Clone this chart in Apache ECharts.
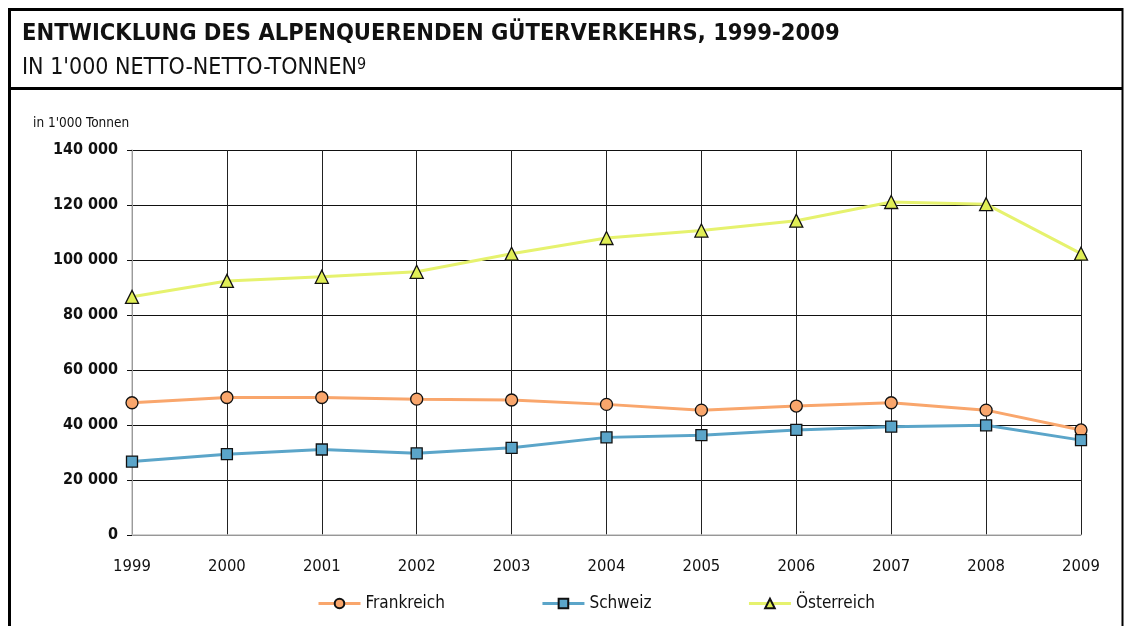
<!DOCTYPE html>
<html>
<head>
<meta charset="utf-8">
<script src="https://cdn.jsdelivr.net/npm/echarts@6/dist/echarts.min.js"></script>
<style>
html,body{margin:0;padding:0;background:#fff;}
#chart{width:1126px;height:626px;}
</style>
</head>
<body>
<div id="chart"></div>
<script>
var years = ['1999','2000','2001','2002','2003','2004','2005','2006','2007','2008','2009'];
var frankreich = [48100, 50000, 50000, 49400, 49100, 47500, 45400, 46900, 48100, 45400, 38200];
var schweiz = [26700, 29400, 31100, 29700, 31700, 35500, 36300, 38200, 39400, 39900, 34500];
var oesterreich = [86600, 92400, 93900, 95700, 102300, 108000, 110700, 114300, 121100, 120300, 102300];
var seriesNames = ['Frankreich', 'Schweiz', 'Österreich'];
var titleText = 'ENTWICKLUNG DES ALPENQUERENDEN GÜTERVERKEHRS, 1999-2009';
var subtitleText = "IN 1'000 NETTO-NETTO-TONNEN";
var footnote = '9';
var unitText = "in 1'000 Tonnen";

var FONT = "'Liberation Sans Narrow', 'DejaVu Sans Condensed', 'Noto Sans', sans-serif";
var chart = echarts.init(document.getElementById('chart'));

function fmt(v){ return String(v).replace(/\B(?=(\d{3})+(?!\d))/g, ' '); }

var colors = ['#F9A66C', '#5BA5C9', '#E6F26E'];
var symbols = ['circle', 'rect', 'triangle'];
var sizes = [12, 11, 13];
var datas = [frankreich, schweiz, oesterreich];

var series = seriesNames.map(function(n, i){
  return {
    name: n,
    type: 'line',
    data: datas[i],
    symbol: symbols[i],
    symbolSize: sizes[i],
    lineStyle: {color: colors[i], width: 3},
    itemStyle: {color: i === 2 ? '#E0EE55' : colors[i], borderColor: '#111', borderWidth: 1.3},
    z: 3 + i
  };
});

chart.setOption({
  animation: false,
  backgroundColor: '#fff',
  graphic: [
    {type: 'line', shape: {x1: 9, y1: 9.5, x2: 1123, y2: 9.5}, style: {stroke: '#000', lineWidth: 3}},
    {type: 'line', shape: {x1: 9, y1: 88.5, x2: 1123, y2: 88.5}, style: {stroke: '#000', lineWidth: 3}},
    {type: 'line', shape: {x1: 9.5, y1: 8, x2: 9.5, y2: 626}, style: {stroke: '#000', lineWidth: 3}},
    {type: 'line', shape: {x1: 1122.5, y1: 8, x2: 1122.5, y2: 626}, style: {stroke: '#000', lineWidth: 2}},
    {type: 'text', x: 22, y: 34, style: {text: titleText, font: 'bold 23.5px ' + FONT, fill: '#111', verticalAlign: 'middle'}},
    {type: 'text', x: 22, y: 68, style: {
      verticalAlign: 'middle',
      text: '{a|' + subtitleText + '}{s|' + footnote + '}',
      rich: {
        a: {fontFamily: FONT, fontSize: 23, fill: '#111', color: '#111'},
        s: {fontFamily: FONT, fontSize: 16, fill: '#111', color: '#111', verticalAlign: 'top', lineHeight: 22}
      }
    }},
    {type: 'text', x: 33, y: 123, style: {text: unitText, font: '13.5px ' + FONT, fill: '#111', verticalAlign: 'middle'}}
  ],
  legend: {
    left: 312, top: 590,
    itemWidth: 42, itemHeight: 12, itemGap: 96,
    textStyle: {fontFamily: FONT, fontSize: 17, color: '#111'},
    lineStyle: {width: 3},
    data: seriesNames
  },
  grid: {left: 132, right: 45, top: 150, bottom: 91, containLabel: false},
  xAxis: {
    type: 'category',
    data: years,
    boundaryGap: false,
    axisLine: {lineStyle: {color: '#c4c4c4', width: 1.5}},
    axisTick: {show: false},
    axisLabel: {fontFamily: FONT, fontSize: 16.5, color: '#111', margin: 23},
    splitLine: {show: true, lineStyle: {color: '#222', width: 1}}
  },
  yAxis: {
    type: 'value',
    min: 0, max: 140000, interval: 20000,
    axisLine: {show: true, lineStyle: {color: '#c4c4c4', width: 1.5}},
    axisTick: {show: true, length: 5, lineStyle: {color: '#111'}},
    axisLabel: {fontFamily: FONT, fontSize: 16, fontWeight: 'bold', color: '#111', margin: 14, formatter: fmt},
    splitLine: {show: true, lineStyle: {color: '#111', width: 1}}
  },
  series: series
});
</script>
</body>
</html>
